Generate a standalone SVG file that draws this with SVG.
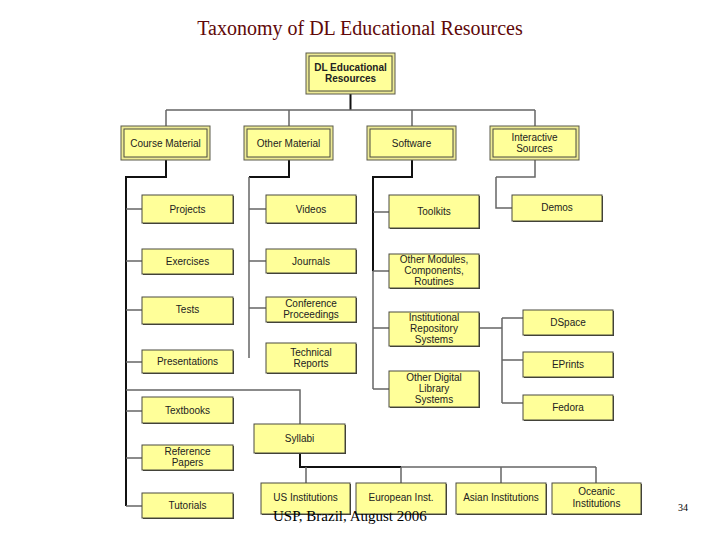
<svg xmlns="http://www.w3.org/2000/svg" width="720" height="540" viewBox="0 0 720 540">
<style>
.leaf{fill:#FFFF99;stroke:#4a4a40;stroke-width:1}
.sh{fill:#3a3a30}
.outer{fill:#EDEA95;stroke:#5a5a4a;stroke-width:1}
.inner{fill:#FFFF99;stroke:#4a4a40;stroke-width:1}
.t{font-family:"Liberation Sans",Arial,sans-serif;font-size:10px;fill:#222;text-anchor:middle}
.tb{font-weight:bold}
.thick{fill:none;stroke:#111;stroke-width:2}
.thin{fill:none;stroke:#666;stroke-width:1.5}
</style>
<rect width="720" height="540" fill="#fff"/>
<text x="360" y="35" font-family="'Liberation Serif','Times New Roman',serif" font-size="20" fill="#600808" text-anchor="middle">Taxonomy of DL Educational Resources</text>

<g id="connectors">
<path class="thick" d="M350.5 94V110"/>
<path class="thin" d="M166 110H535M166 110V126M289 110V126M412 110V126M535 110V126"/>
<path class="thick" d="M166 160V177H126V506M289 160V177H249M412 160V177H373V271"/>
<path class="thin" d="M496 177H535V160"/>
<path class="thin" d="M126 209H142M126 261H142M126 310H142M126 362H142M126 411H142M126 458H142M126 506H142M126 390H300V424"/>
<path class="thin" d="M249 177V358M249 209H266M249 261H266M249 308H266"/>
<path class="thin" d="M373 271V389M373 212H389M373 271H389M373 328H389M373 389H389"/>
<path class="thin" d="M496 177V208H512"/>
<path class="thin" d="M479 328H502M502 318V403M502 318H523M502 360H523M502 403H523"/>
<path class="thick" d="M300 453V467H401"/>
<path class="thin" d="M401 467H596M306 467V483M401 467V483M501 467V483M596 467V483"/>
</g>

<g id="n-root"><rect class="outer" x="306" y="53" width="89" height="41"/><rect class="inner" x="309" y="56" width="83" height="35"/><text class="t tb" x="350.5" y="71">DL Educational</text><text class="t tb" x="350.5" y="82">Resources</text></g>

<g id="n-course"><rect class="outer" x="121" y="126" width="89" height="34"/><rect class="inner" x="124" y="129" width="83" height="28"/><text class="t" x="165.5" y="146.5">Course Material</text></g>
<g id="n-other"><rect class="outer" x="244" y="126" width="89" height="34"/><rect class="inner" x="247" y="129" width="83" height="28"/><text class="t" x="288.5" y="146.5">Other Material</text></g>
<g id="n-software"><rect class="outer" x="367" y="126" width="89" height="34"/><rect class="inner" x="370" y="129" width="83" height="28"/><text class="t" x="411.5" y="146.5">Software</text></g>
<g id="n-interactive"><rect class="outer" x="490" y="126" width="89" height="34"/><rect class="inner" x="493" y="129" width="83" height="28"/><text class="t" x="534.5" y="140.5">Interactive</text><text class="t" x="534.5" y="151.5">Sources</text></g>

<g id="n-projects"><rect class="sh" x="143" y="196" width="91" height="28"/><rect class="leaf" x="142" y="195" width="91" height="28"/><text class="t" x="187.5" y="212.5">Projects</text></g>
<g id="n-exercises"><rect class="sh" x="143" y="250" width="91" height="25"/><rect class="leaf" x="142" y="249" width="91" height="25"/><text class="t" x="187.5" y="265">Exercises</text></g>
<g id="n-tests"><rect class="sh" x="143" y="298" width="91" height="27"/><rect class="leaf" x="142" y="297" width="91" height="27"/><text class="t" x="187.5" y="313">Tests</text></g>
<g id="n-presentations"><rect class="sh" x="143" y="351" width="91" height="23"/><rect class="leaf" x="142" y="350" width="91" height="23"/><text class="t" x="187.5" y="365">Presentations</text></g>
<g id="n-textbooks"><rect class="sh" x="143" y="398" width="91" height="26"/><rect class="leaf" x="142" y="397" width="91" height="26"/><text class="t" x="187.5" y="413.5">Textbooks</text></g>
<g id="n-refpapers"><rect class="sh" x="143" y="446" width="91" height="25"/><rect class="leaf" x="142" y="445" width="91" height="25"/><text class="t" x="187.5" y="455">Reference</text><text class="t" x="187.5" y="466">Papers</text></g>
<g id="n-tutorials"><rect class="sh" x="143" y="494" width="91" height="25"/><rect class="leaf" x="142" y="493" width="91" height="25"/><text class="t" x="187.5" y="509">Tutorials</text></g>

<g id="n-videos"><rect class="sh" x="267" y="196" width="90" height="28"/><rect class="leaf" x="266" y="195" width="90" height="28"/><text class="t" x="311" y="212.5">Videos</text></g>
<g id="n-journals"><rect class="sh" x="267" y="250" width="90" height="24"/><rect class="leaf" x="266" y="249" width="90" height="24"/><text class="t" x="311" y="264.5">Journals</text></g>
<g id="n-conference"><rect class="sh" x="267" y="298" width="90" height="25"/><rect class="leaf" x="266" y="297" width="90" height="25"/><text class="t" x="311" y="306.5">Conference</text><text class="t" x="311" y="317.5">Proceedings</text></g>
<g id="n-techreports"><rect class="sh" x="267" y="344" width="90" height="30"/><rect class="leaf" x="266" y="343" width="90" height="30"/><text class="t" x="311" y="355.5">Technical</text><text class="t" x="311" y="366.5">Reports</text></g>

<g id="n-toolkits"><rect class="sh" x="390" y="196" width="90" height="33"/><rect class="leaf" x="389" y="195" width="90" height="33"/><text class="t" x="434" y="215">Toolkits</text></g>
<g id="n-modules"><rect class="sh" x="390" y="255" width="90" height="34"/><rect class="leaf" x="389" y="254" width="90" height="34"/><text class="t" x="434" y="263">Other Modules,</text><text class="t" x="434" y="274">Components,</text><text class="t" x="434" y="285">Routines</text></g>
<g id="n-institutional"><rect class="sh" x="390" y="313" width="90" height="34"/><rect class="leaf" x="389" y="312" width="90" height="34"/><text class="t" x="434" y="320.5">Institutional</text><text class="t" x="434" y="331.5">Repository</text><text class="t" x="434" y="342.5">Systems</text></g>
<g id="n-otherdl"><rect class="sh" x="390" y="372" width="90" height="36"/><rect class="leaf" x="389" y="371" width="90" height="36"/><text class="t" x="434" y="381">Other Digital</text><text class="t" x="434" y="392">Library</text><text class="t" x="434" y="403">Systems</text></g>

<g id="n-demos"><rect class="sh" x="513" y="196" width="90" height="26"/><rect class="leaf" x="512" y="195" width="90" height="26"/><text class="t" x="557" y="211">Demos</text></g>
<g id="n-dspace"><rect class="sh" x="524" y="311" width="90" height="25"/><rect class="leaf" x="523" y="310" width="90" height="25"/><text class="t" x="568" y="325.5">DSpace</text></g>
<g id="n-eprints"><rect class="sh" x="524" y="353" width="90" height="25"/><rect class="leaf" x="523" y="352" width="90" height="25"/><text class="t" x="568" y="367.5">EPrints</text></g>
<g id="n-fedora"><rect class="sh" x="524" y="396" width="90" height="25"/><rect class="leaf" x="523" y="395" width="90" height="25"/><text class="t" x="568" y="410.5">Fedora</text></g>

<g id="n-syllabi"><rect class="sh" x="255" y="425" width="91" height="29"/><rect class="leaf" x="254" y="424" width="91" height="29"/><text class="t" x="299.5" y="441.5">Syllabi</text></g>
<g id="n-us"><rect class="sh" x="262" y="484" width="89" height="31"/><rect class="leaf" x="261" y="483" width="89" height="31"/><text class="t" x="305.5" y="501">US Institutions</text></g>
<g id="n-european"><rect class="sh" x="357" y="484" width="90" height="31"/><rect class="leaf" x="356" y="483" width="90" height="31"/><text class="t" x="401" y="501">European Inst.</text></g>
<g id="n-asian"><rect class="sh" x="457" y="484" width="90" height="31"/><rect class="leaf" x="456" y="483" width="90" height="31"/><text class="t" x="501" y="501">Asian Institutions</text></g>
<g id="n-oceanic"><rect class="sh" x="553" y="484" width="89" height="31"/><rect class="leaf" x="552" y="483" width="89" height="31"/><text class="t" x="596.5" y="495">Oceanic</text><text class="t" x="596.5" y="507">Institutions</text></g>

<text x="273" y="521" font-family="'Liberation Serif','Times New Roman',serif" font-size="15" fill="#000">USP, Brazil, August 2006</text>
<text x="678" y="511" font-family="'Liberation Serif','Times New Roman',serif" font-size="10" fill="#000">34</text>
</svg>
